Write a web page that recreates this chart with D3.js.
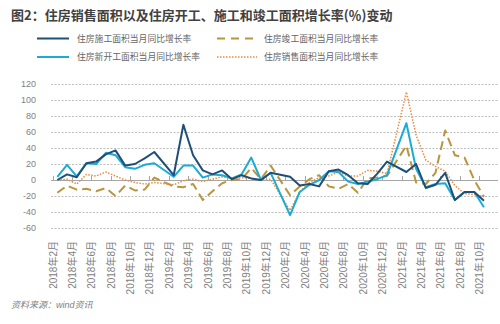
<!DOCTYPE html>
<html><head><meta charset="utf-8">
<script src="https://cdn.jsdelivr.net/npm/d3@7"></script>
<style>
html,body{margin:0;padding:0;background:#fff;}
svg{display:block;font-family:"Liberation Sans","Noto Sans CJK SC",sans-serif;}
</style></head>
<body>
<svg id="chart" width="500" height="324"></svg>
<script>
// ---- data ----
const categories = ["2018-02","2018-03","2018-04","2018-05","2018-06","2018-07","2018-08","2018-09","2018-10","2018-11","2018-12",
"2019-01","2019-02","2019-03","2019-04","2019-05","2019-06","2019-07","2019-08","2019-09","2019-10","2019-11","2019-12",
"2020-01","2020-02","2020-03","2020-04","2020-05","2020-06","2020-07","2020-08","2020-09","2020-10","2020-11","2020-12",
"2021-01","2021-02","2021-03","2021-04","2021-05","2021-06","2021-07","2021-08","2021-09","2021-10","2021-11"];
const tickCategories = ["2018-02","2018-04","2018-06","2018-08","2018-10","2018-12","2019-02","2019-04","2019-06","2019-08","2019-10","2019-12",
"2020-02","2020-04","2020-06","2020-08","2020-10","2020-12","2021-02","2021-04","2021-06","2021-08","2021-10"];
const tickLabels = ["2018年2月","2018年4月","2018年6月","2018年8月","2018年10月","2018年12月","2019年2月","2019年4月","2019年6月","2019年8月","2019年10月","2019年12月",
"2020年2月","2020年4月","2020年6月","2020年8月","2020年10月","2020年12月","2021年2月","2021年4月","2021年6月","2021年8月","2021年10月"];
const yTicks = [-60,-40,-20,0,20,40,60,80,100,120];

const construction = [0,7,3.5,21,23,32,37,18,20,27,35,null,6,69,31,12,7,12,1,6,2,0,9,null,4,-7,-5,-8,11,13,6,-4,-5,8,23,null,10,20,-10,-6,9,-25,-15,-15,-26];
const newStart = [4,19,4.5,21,20,34,31,16,14,19,21,null,4,18,18,3,7,6,2,7,28,0,9,null,-44,-15,-6,0,11,10,-2,-5,-2,1,6,null,71,14,-9,-5,-4,-25,-15,-15,-34];
const completion = [-16,-7,-12,-11,-14,-10,-20,-7,-13,-12,3,null,-8,-9,-5,-25,-14,-4,0,1,15,1,18,null,-19,-8,1,6,-8,-11,-5,-16,2,3,5,null,43,-3,-5,9,62,31,28,0,-21];
const sales = [0,1,-5,7,5,10,5,0,-3,-5,-3,null,-6,-1,1,-2,1,4,2,3,2,0,1,null,-38,-15,-3,3,5,10,5,5,12,11,8,null,110,56,25,17,11,-7,-17,-18,-21];

const seriesNames = ["住房施工面积当月同比增长率","住房竣工面积当月同比增长率","住房新开工面积当月同比增长率","住房销售面积当月同比增长率"];

// ---- chart ----
const svg = d3.select("#chart");
const x = d3.scaleBand().domain(categories).range([52.5, 498.5]).padding(0);
const y = d3.scaleLinear().domain([-60,120]).range([228,84]);
const cx = c => x(c) + x.bandwidth()/2;

// title
svg.append("text").attr("x",11).attr("y",20)
  .attr("font-size",13).attr("font-weight","bold").attr("fill","#404040")
  .attr("font-family","'Noto Sans CJK SC',sans-serif")
  .text("图2：住房销售面积以及住房开工、施工和竣工面积增长率(％)变动");

// gridlines
svg.append("g").selectAll("line").data(yTicks.filter(d=>d!==0)).join("line")
  .attr("x1",51).attr("x2",498).attr("y1",d=>y(d)+0.5).attr("y2",d=>y(d)+0.5)
  .attr("stroke","#bfbfbf").attr("stroke-width",1).attr("stroke-dasharray","2,1.5");

// y labels
svg.append("g").selectAll("text").data(yTicks).join("text")
  .attr("x",36).attr("y",d=>y(d)).attr("dy","0.35em").attr("text-anchor","end")
  .attr("font-size",9).attr("fill","#808080").text(d=>d);

// axis line at 0
svg.append("line").attr("x1",51).attr("x2",498).attr("y1",y(0)+0.5).attr("y2",y(0)+0.5)
  .attr("stroke","#a6a6a6").attr("stroke-width",1);
// ticks
svg.append("g").selectAll("line").data(tickCategories).join("line")
  .attr("x1",d=>Math.round(x(d))+0.5).attr("x2",d=>Math.round(x(d))+0.5)
  .attr("y1",y(0)).attr("y2",y(0)-4).attr("stroke","#a6a6a6");

// x labels
svg.append("g").selectAll("text").data(tickCategories).join("text")
  .attr("transform",d=>`translate(${x(d)+0.5},241) rotate(-90)`)
  .attr("text-anchor","end").attr("dominant-baseline","central")
  .attr("font-size",10).attr("fill","#808080")
  .text((d,i)=>tickLabels[i]);

// lines
function drawSeries(vals, color, width, dash){
  const pts = vals.map((v,i)=>[categories[i], v]).filter(p=>p[1]!==null);
  const line = d3.line().x(p=>cx(p[0])).y(p=>y(p[1]));
  svg.append("path").datum(pts).attr("d",line).attr("fill","none")
    .attr("stroke",color).attr("stroke-width",width)
    .attr("stroke-dasharray",dash||null).attr("stroke-linejoin","round");
}
const colors = {construction:"#1f4e79", newStart:"#1aabd6", completion:"#b8963e", sales:"#ec8a3c"};
drawSeries(completion, colors.completion, 2, "9,5");
drawSeries(sales, colors.sales, 1.5, "1.5,1.5");
drawSeries(newStart, colors.newStart, 2);
drawSeries(construction, colors.construction, 2);

// legend
const legend = [
  {name:seriesNames[0], color:colors.construction, dash:null, w:2, x:37, y:38.5},
  {name:seriesNames[1], color:colors.completion, dash:"8,6", w:2, x:217, y:38.5},
  {name:seriesNames[2], color:colors.newStart, dash:null, w:2, x:37, y:57},
  {name:seriesNames[3], color:colors.sales, dash:"1.5,1.5", w:1.5, x:217, y:57}
];
const lg = svg.append("g").selectAll("g").data(legend).join("g");
lg.append("line").attr("x1",d=>d.x).attr("x2",d=>d.x+(d.x<100?32:40))
  .attr("y1",d=>d.y).attr("y2",d=>d.y).attr("stroke",d=>d.color)
  .attr("stroke-width",d=>d.w).attr("stroke-dasharray",d=>d.dash);
lg.append("text").attr("x",d=>d.x<100?77:264).attr("y",d=>d.y).attr("dy","0.35em")
  .attr("font-size",8.8).attr("fill","#666").attr("font-family","'Noto Sans CJK SC',sans-serif")
  .text(d=>d.name);

// source
svg.append("text").attr("x",11).attr("y",308).attr("font-size",9).attr("fill","#808080")
  .attr("font-style","italic").text("资料来源：wind资讯");
</script>
</body></html>
